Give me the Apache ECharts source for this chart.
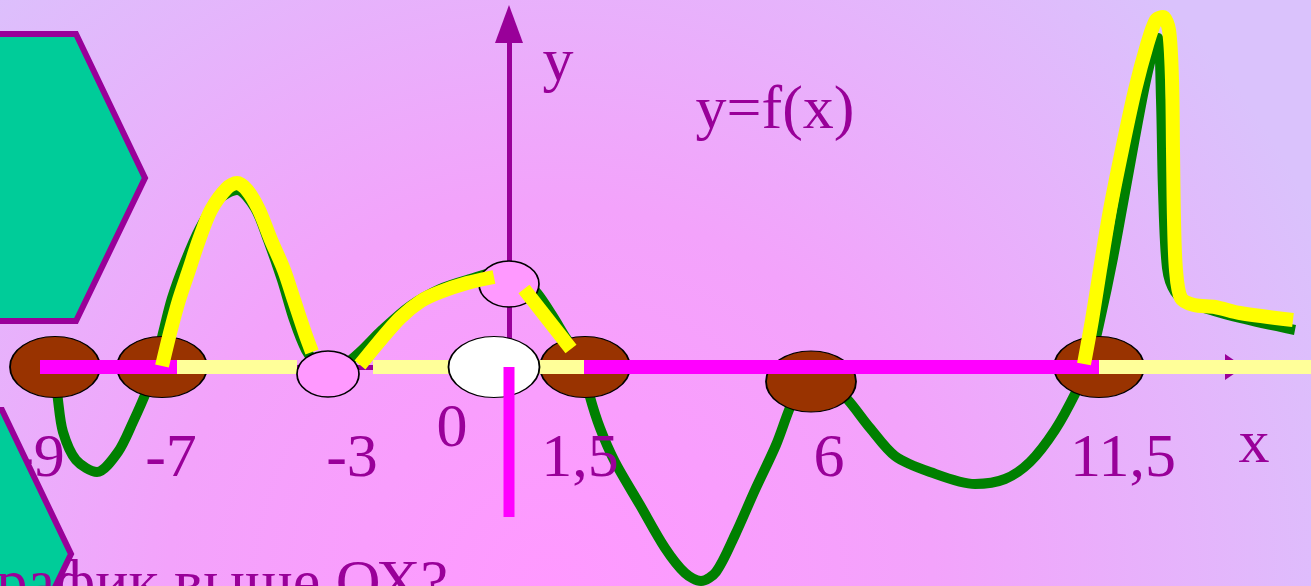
<!DOCTYPE html>
<html lang="ru">
<head>
  <meta charset="utf-8">
  <title>y=f(x)</title>
  <script src="https://cdn.jsdelivr.net/npm/echarts@6/dist/echarts.min.js"></script>
  <style>
    html, body { margin: 0; padding: 0; overflow: hidden; }
    #main { width: 1311px; height: 586px; }
  </style>
</head>
<body>
  <div id="main"></div>
  <script>
    // нули функции, как они нарисованы на слайде
    var roots = [[-9.08, 0], [-6.94, 0], [1.52, 0], [6.04, -0.29], [11.8, 0]];
    var touchPoint = [[-3.62, -0.14]];  // касание оси у -3
    var topPoint = [[0, 1.66]];         // точка на оси y
    var holePoint = [[-0.3, 0]];        // выколотая точка

    // график y=f(x)
    var greenCurve = [
      [-9.08, 0], [-9.02, -0.66], [-8.92, -1.30], [-8.66, -1.86], [-8.24, -2.10], [-7.82, -1.70],
      [-7.52, -1.10], [-7.24, -0.46], [-7.08, 0], [-6.92, 0.68], [-6.74, 1.38], [-6.48, 2.10],
      [-6.18, 2.78], [-5.82, 3.34], [-5.44, 3.54], [-5.08, 3.18], [-4.82, 2.54], [-4.54, 1.74],
      [-4.30, 0.94], [-4.06, 0.34], [-3.82, 0.06], [-3.58, -0.02], [-3.28, 0.06], [-2.98, 0.30],
      [-2.54, 0.74], [-1.98, 1.22], [-1.38, 1.56], [-0.78, 1.76], [-0.22, 1.90], [0.22, 1.82],
      [0.56, 1.48], [0.86, 1.04], [1.14, 0.58], [1.38, 0.22], [1.48, 0], [1.62, -0.60],
      [1.82, -1.22], [2.12, -1.90], [2.62, -2.76], [3.12, -3.62], [3.52, -4.12], [3.84, -4.28],
      [4.14, -4.10], [4.52, -3.36], [4.92, -2.46], [5.34, -1.56], [5.60, -0.86], [5.82, -0.36],
      [6.12, -0.16], [6.46, -0.36], [6.78, -0.66], [7.22, -1.22], [7.72, -1.78], [8.42, -2.10],
      [9.32, -2.34], [9.92, -2.24], [10.42, -1.90], [10.92, -1.26], [11.34, -0.50], [11.62, 0.14],
      [11.82, 0.94], [12.08, 2.18], [12.34, 3.60], [12.68, 5.44], [12.86, 6.24], [12.98, 6.58],
      [13.04, 5.34], [13.08, 3.54], [13.16, 1.98], [13.32, 1.50], [13.62, 1.28], [14.62, 0.98],
      [15.72, 0.74]
    ];

    // части графика выше оси OX
    var yellowParts = [
      [[-6.94, 0.02], [-6.78, 0.68], [-6.60, 1.34], [-6.40, 1.94], [-6.20, 2.54], [-5.96, 3.14],
       [-5.64, 3.58], [-5.44, 3.68], [-5.24, 3.54], [-5.00, 3.14], [-4.76, 2.54], [-4.50, 1.94],
       [-4.30, 1.34], [-4.08, 0.68], [-3.94, 0.30]],
      [[-2.98, 0.04], [-2.62, 0.48], [-2.18, 0.98], [-1.76, 1.32], [-1.38, 1.50], [-0.84, 1.68],
       [-0.30, 1.80]],
      [[0.30, 1.56], [1.24, 0.36]],
      [[11.50, 0.06], [11.66, 0.94], [11.82, 1.94], [12.02, 3.14], [12.26, 4.34], [12.52, 5.54],
       [12.76, 6.44], [12.94, 6.94], [13.08, 7.00], [13.20, 6.74], [13.26, 5.74], [13.28, 4.34],
       [13.30, 2.94], [13.34, 1.94], [13.44, 1.38], [13.70, 1.24], [14.12, 1.20], [14.62, 1.08],
       [15.68, 0.94]]
    ];

    // промежутки на оси OX
    var negIntervals = [[-9.38, -6.64], [1.5, 11.8]];
    var posIntervals = [[-6.64, -4.24], [-2.72, -1.2], [0.6, 1.5], [11.8, 16.04]];

    // подписи
    var tickNames = ['-9', '-7', '-3', '0', '1,5', '6', '11,5'];
    var tickX = [-9.4, -6.76, -3.14, -1.14, 1.42, 6.4, 12.28];
    var tickY = [-1.86, -1.86, -1.86, -1.26, -1.86, -1.86, -1.86];
    var axisNames = ['x', 'y', 'y=f(x)'];
    var axisNameX = [14.9, 0.98, 5.32];
    var axisNameY = [-1.58, 6.06, 5.1];

    var purple = '#990099';
    var serif = '"Liberation Serif", "Times New Roman", serif';
    var ellipse = 'path://M0 50A50 50 0 1 1 100 50A50 50 0 1 1 0 50Z';

    var myChart = echarts.init(document.getElementById('main'));

    function lineSeries(data, color, width, z) {
      return {
        type: 'line',
        data: data,
        z: z,
        silent: true,
        showSymbol: false,
        smooth: 0.3,
        lineStyle: { color: color, width: width, cap: 'butt', join: 'round' },
        animation: false
      };
    }

    function pointSeries(data, color, size, z) {
      return {
        type: 'scatter',
        data: data,
        z: z,
        silent: true,
        symbol: ellipse,
        symbolSize: size,
        itemStyle: { color: color, borderColor: '#000', borderWidth: 1.5, opacity: 1 },
        animation: false
      };
    }

    function textSeries(names, xs, ys, z) {
      return {
        type: 'scatter',
        z: z,
        silent: true,
        symbolSize: 1,
        itemStyle: { color: 'rgba(0,0,0,0)', opacity: 1 },
        data: names.map(function(n, i) { return { name: n, value: [xs[i], ys[i]] }; }),
        label: {
          show: true,
          position: 'inside',
          formatter: '{b}',
          color: purple,
          fontFamily: serif,
          fontSize: 62
        },
        animation: false
      };
    }

    var series = [];

    // оси со стрелками (под цветными отрезками)
    series.push({
      type: 'line',
      data: [],
      z: 1,
      markLine: {
        z: 1,
        silent: true,
        animation: false,
        symbol: ['none', 'triangle'],
        label: { show: false },
        lineStyle: { color: purple, width: 5, type: 'solid' },
        data: [
          [{ coord: [-9.38, 0], symbolSize: [26, 19] }, { coord: [14.51, 0], symbolSize: [26, 19] }],
          [{ coord: [0, 0.54], symbolSize: [28, 38] }, { coord: [0, 6.86], symbolSize: [28, 38] }]
        ]
      }
    });

    series.push(lineSeries(greenCurve, '#008000', 10, 2));
    series.push(pointSeries(roots, '#993300', [90, 61], 3));

    negIntervals.forEach(function(r) {
      var s = lineSeries([[r[0], 0], [r[1], 0]], '#ff00ff', 14, 4);
      s.smooth = false;
      series.push(s);
    });
    posIntervals.forEach(function(r) {
      var s = lineSeries([[r[0], 0], [r[1], 0]], '#ffff99', 14, 4);
      s.smooth = false;
      series.push(s);
    });

    series.push(pointSeries(holePoint, '#ffffff', [91, 61], 5));
    series.push(pointSeries(touchPoint, '#ff99ff', [62, 46], 5));
    series.push(pointSeries(topPoint, '#ff99ff', [60, 46], 5));

    var vline = lineSeries([[0, 0], [0, -3]], '#ff00ff', 11, 6);
    vline.smooth = false;
    series.push(vline);

    yellowParts.forEach(function(p) {
      series.push(lineSeries(p, '#ffff00', 14, 6));
    });

    series.push(textSeries(tickNames, tickX, tickY, 3));
    series.push(textSeries(axisNames, axisNameX, axisNameY, 3));

    var hexStyle = { fill: '#00cc99', stroke: purple, lineWidth: 6 };

    var option = {
      backgroundColor: {
        type: 'radial', x: 0.42, y: 1.0, r: 1.45,
        colorStops: [
          { offset: 0, color: '#ff99ff' },
          { offset: 0.45, color: '#f3a3fb' },
          { offset: 1, color: '#dac2fc' }
        ]
      },
      animation: false,
      grid: { left: 0, right: 0, top: 0, bottom: 0 },
      xAxis: { type: 'value', min: -10.18, max: 16.04, show: false },
      yAxis: { type: 'value', min: -4.38, max: 7.34, show: false },
      graphic: [
        {
          type: 'polygon', z: 10, silent: true,
          shape: { points: [[-70, 34], [76, 34], [145, 178], [76, 321], [-70, 321], [-140, 178]] },
          style: hexStyle
        },
        {
          type: 'polygon', z: 10, silent: true,
          shape: { points: [[2, 410], [71, 554], [2, 697], [-144, 697], [-213, 554], [-144, 410]] },
          style: hexStyle
        },
        {
          type: 'text', z: 11, silent: true,
          x: 448, y: 586,
          style: {
            text: 'График выше ОХ?',
            fill: purple,
            font: '62px ' + serif,
            textAlign: 'right',
            textVerticalAlign: 'middle'
          }
        }
      ],
      series: series
    };

    myChart.setOption(option);
  </script>
</body>
</html>
